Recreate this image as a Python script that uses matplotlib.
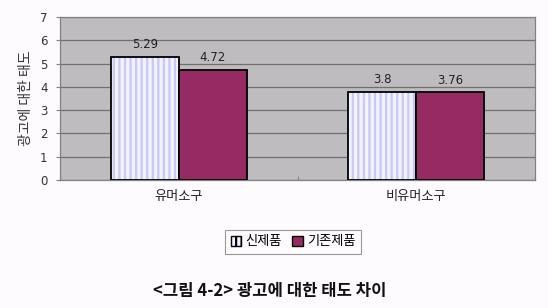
import matplotlib
matplotlib.use("Agg")
import matplotlib.pyplot as plt
import numpy as np
from matplotlib.patches import Patch

plt.rcParams['font.family'] = ['Noto Sans CJK KR', 'DejaVu Sans']
plt.rcParams['hatch.linewidth'] = 1.6

categories = ['유머소구', '비유머소구']
series_names = ['신제품', '기존제품']
new_vals = [5.29, 3.8]
old_vals = [4.72, 3.76]
value_labels_new = ['5.29', '3.8']
value_labels_old = ['4.72', '3.76']
yticks = [0, 1, 2, 3, 4, 5, 6, 7]

fig = plt.figure(figsize=(5.48, 3.08), dpi=100)
fig.patch.set_facecolor('#fdfbfd')
ax = fig.add_axes([60/548, 1-180/308, 475/548, 163/308])
ax.set_facecolor('#bfbcbf')

x = np.arange(len(categories))
w = 0.286
c_new_face = '#f2f2ff'
c_new_hatch = '#c8c8f6'
c_old = '#962a62'

ax.bar(x - w/2, new_vals, w, facecolor=c_new_face, edgecolor=c_new_hatch,
       hatch='|||', linewidth=0, zorder=3)
ax.bar(x - w/2, new_vals, w, facecolor='none', edgecolor='black', linewidth=1.3, zorder=4)
ax.bar(x + w/2, old_vals, w, facecolor=c_old, edgecolor='black', linewidth=1.3, zorder=3)

for xi, v, t in zip(x - w/2, new_vals, value_labels_new):
    ax.text(xi, v + 0.25, t, ha='center', va='bottom', fontsize=8.5, color='#222222',
            family='DejaVu Sans')
for xi, v, t in zip(x + w/2, old_vals, value_labels_old):
    ax.text(xi, v + 0.25, t, ha='center', va='bottom', fontsize=8.5, color='#222222',
            family='DejaVu Sans')

ax.set_xlim(-0.5, 1.5)
ax.set_ylim(0, 7)
ax.set_yticks(yticks)
ax.set_yticklabels([str(t) for t in yticks], fontsize=8.5, color='#333333', family='DejaVu Sans')
ax.yaxis.grid(True, color='#707070', linewidth=0.9, zorder=0)
ax.set_axisbelow(True)
ax.set_xticks(x)
ax.set_xticklabels(categories, fontsize=9.5, color='#222222')
ax.tick_params(axis='x', length=0, pad=7)
ax.tick_params(axis='y', length=3, color='#808080', pad=6)
ax.set_xticks([0.5], minor=True)
ax.tick_params(axis='x', which='minor', length=3, direction='in', color='#808080')
for s in ax.spines.values():
    s.set_color('#808080')
    s.set_linewidth(0.9)

ax.set_ylabel('광고에 대한 태도', fontsize=10, color='#333333', labelpad=5)

handles = [Patch(facecolor=c_new_face, edgecolor='black', hatch='|||', label=series_names[0]),
           Patch(facecolor=c_old, edgecolor='black', label=series_names[1])]
leg = fig.legend(handles=handles, loc='center', bbox_to_anchor=(293/548, 1-242/308),
                 ncol=2, fontsize=9.5, frameon=True, fancybox=False, handlelength=0.8,
                 handleheight=0.8, handletextpad=0.3, columnspacing=0.8, borderpad=0.45)
leg.get_frame().set_edgecolor('#808080')
leg.get_frame().set_linewidth(0.8)
leg.get_frame().set_facecolor('#fdfbfd')

fig.text(270/548, 1-291/308, '<그림 4-2> 광고에 대한 태도 차이', ha='center', va='center',
         fontsize=12, fontweight='bold', color='#111111')

fig.savefig('out.png', dpi=100, facecolor=fig.get_facecolor())
